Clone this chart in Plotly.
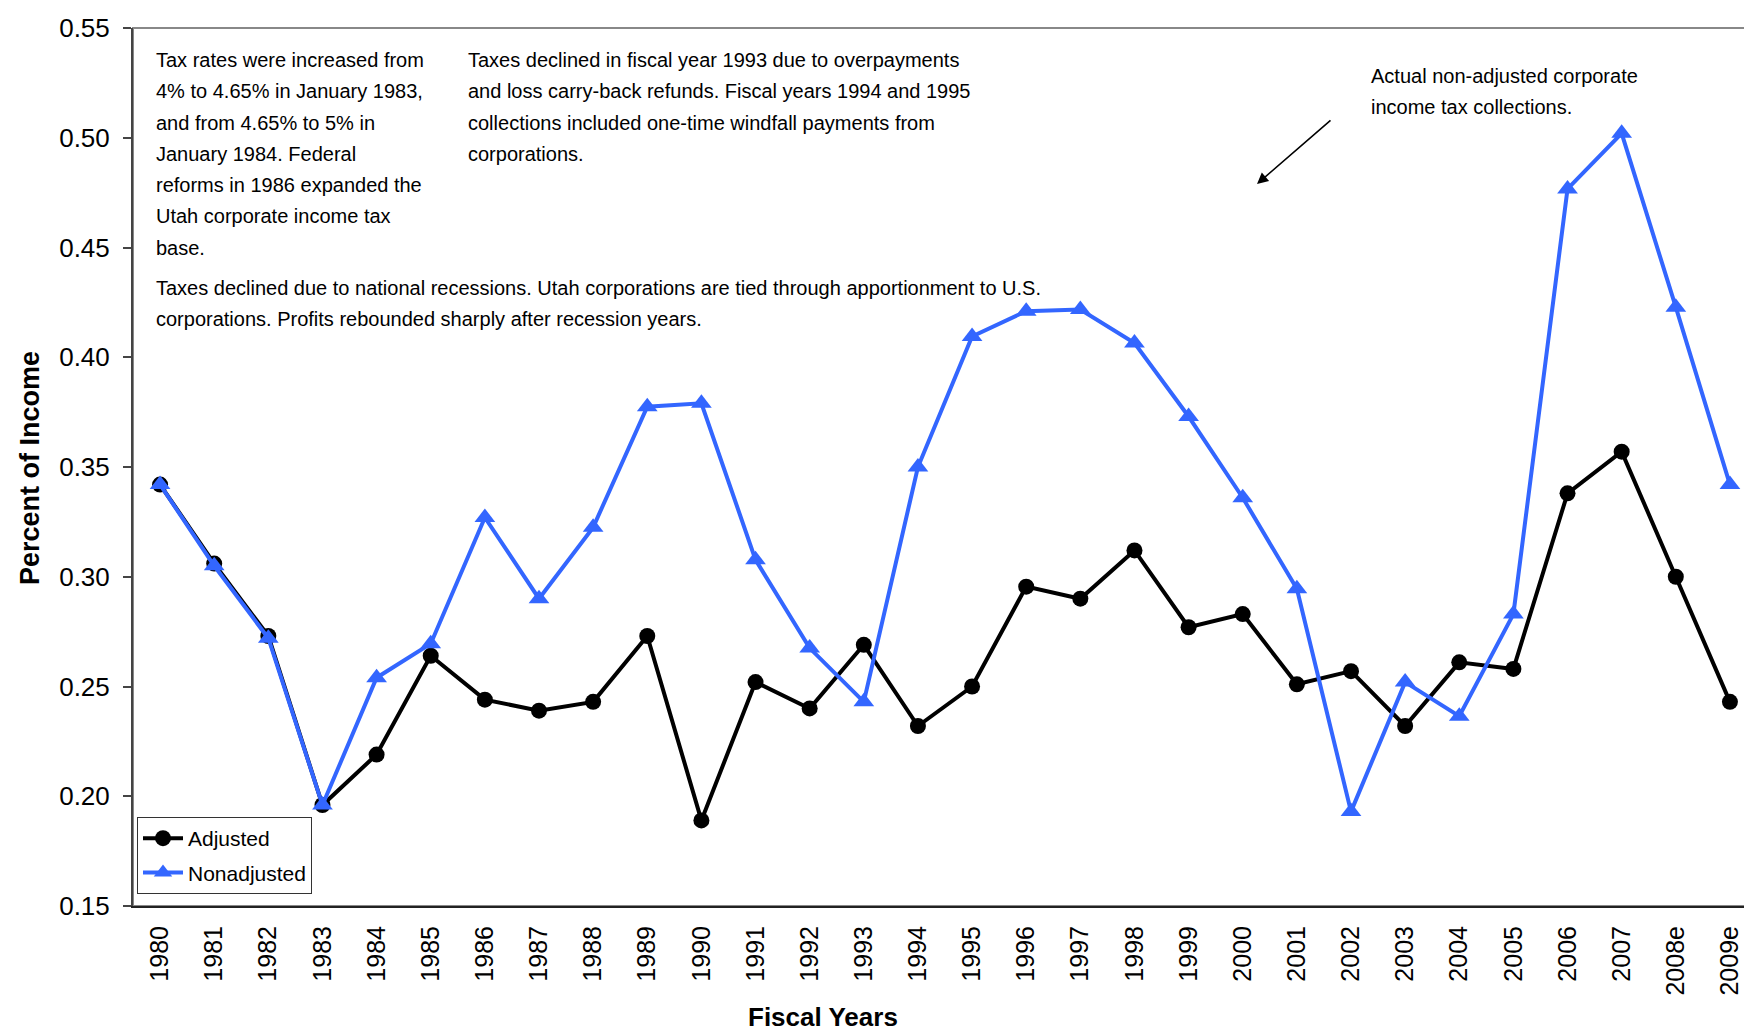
import plotly.graph_objects as go

years = ["1980", "1981", "1982", "1983", "1984", "1985", "1986", "1987", "1988", "1989",
         "1990", "1991", "1992", "1993", "1994", "1995", "1996", "1997", "1998", "1999",
         "2000", "2001", "2002", "2003", "2004", "2005", "2006", "2007", "2008e", "2009e"]
adjusted = [0.342, 0.306, 0.273, 0.196, 0.219, 0.264, 0.244, 0.239, 0.243, 0.273,
            0.189, 0.252, 0.240, 0.269, 0.232, 0.250, 0.2955, 0.290, 0.312, 0.277,
            0.283, 0.251, 0.257, 0.232, 0.261, 0.258, 0.338, 0.357, 0.300, 0.243]
nonadjusted = [0.342, 0.305, 0.272, 0.196, 0.254, 0.2695, 0.327, 0.290, 0.3225, 0.3775,
               0.379, 0.3077, 0.2675, 0.243, 0.350, 0.4095, 0.421, 0.4217, 0.4065, 0.373,
               0.336, 0.2945, 0.193, 0.252, 0.2365, 0.283, 0.4767, 0.502, 0.4228, 0.342]
y_ticks = [0.15, 0.20, 0.25, 0.30, 0.35, 0.40, 0.45, 0.50, 0.55]

note_rates = ["Tax rates were increased from", "4% to 4.65% in January 1983,",
              "and from 4.65% to 5% in", "January 1984. Federal",
              "reforms in 1986 expanded the", "Utah corporate income tax", "base."]
note_1993 = ["Taxes declined in fiscal year 1993 due to overpayments",
             "and loss carry-back refunds. Fiscal years 1994 and 1995",
             "collections included one-time windfall payments from", "corporations."]
note_recess = ["Taxes declined due to national recessions. Utah corporations are tied through apportionment to U.S.",
               "corporations. Profits rebounded sharply after recession years."]
note_actual = ["Actual non-adjusted corporate", "income tax collections."]

W, H = 1752, 1029
L, R, T, B = 125, 1749, 20, 898
TXT = "Liberation Sans, Arial, sans-serif"


def px(x):
    return (x - L) / (R - L)


def py(y):
    return (B - y) / (B - T)


fig = go.Figure()
fig.add_trace(go.Scatter(
    x=years, y=adjusted, name="Adjusted", mode="lines+markers",
    line=dict(color="black", width=4),
    marker=dict(symbol="circle", size=16, color="black"),
    legendgroup="a",
))
fig.add_trace(go.Scatter(
    x=years, y=nonadjusted, name="Nonadjusted", mode="lines+markers",
    line=dict(color="#3366FF", width=4),
    marker=dict(symbol="triangle-up", size=18, color="#3366FF"),
    legendgroup="b",
))

LINE = 31.3
blocks = [(note_rates, 147, 52), (note_1993, 459, 52), (note_recess, 147, 280), (note_actual, 1362, 68)]
for lines, x0, y0 in blocks:
    for i, t in enumerate(lines):
        fig.add_annotation(xref="paper", yref="paper", x=px(x0), y=py(y0 + i * LINE),
                           xanchor="left", yanchor="middle", align="left", text=t,
                           showarrow=False, borderpad=0,
                           font=dict(family=TXT, size=20, color="black"))

# arrow
fig.add_annotation(xref="paper", yref="paper", x=px(1249), y=py(176), ax=75, ay=-65,
                   text="", showarrow=True, arrowhead=2, arrowsize=1.4, arrowwidth=1.6,
                   arrowcolor="black")

# axis titles
fig.add_annotation(xref="paper", yref="paper", x=px(22), y=py(460), text="<b>Percent of Income</b>",
                   textangle=-90, showarrow=False, xanchor="center", yanchor="middle",
                   font=dict(family=TXT, size=27, color="black"))
fig.add_annotation(xref="paper", yref="paper", x=px(815), y=py(1009), text="<b>Fiscal Years</b>",
                   showarrow=False, xanchor="center", yanchor="middle", borderpad=0,
                   font=dict(family=TXT, size=26, color="black"))

# frame (top/right in grey)
fig.add_shape(type="rect", xref="paper", yref="paper", x0=0, y0=0, x1=1, y1=1,
              line=dict(color="#888888", width=2), layer="below")

fig.update_layout(
    width=W, height=H,
    margin=dict(l=L, r=W - R, t=T, b=H - B),
    paper_bgcolor="white", plot_bgcolor="white",
    showlegend=True,
    legend=dict(x=px(129), y=py(886), xanchor="left", yanchor="bottom",
                bgcolor="white", bordercolor="#333333", borderwidth=1,
                font=dict(family=TXT, size=21, color="black"),
                traceorder="grouped", tracegroupgap=4, itemwidth=40),
    xaxis=dict(type="category", range=[-0.5, 29.5], showgrid=False, zeroline=False,
               showline=True, linecolor="#222222", linewidth=2,
               ticks="outside", ticklen=8, tickcolor="rgba(0,0,0,0)",
               tickangle=-90, tickfont=dict(family=TXT, size=25, color="black")),
    yaxis=dict(range=[0.15, 0.55], tickvals=y_ticks, tickformat=".2f", showgrid=False,
               zeroline=False, showline=True, linecolor="#444444", linewidth=2,
               ticks="outside", ticklen=8, tickcolor="#444444", tickwidth=1.5,
               ticklabelstandoff=8,
               tickfont=dict(family=TXT, size=26, color="black")),
)

fig.write_html("out.html")
